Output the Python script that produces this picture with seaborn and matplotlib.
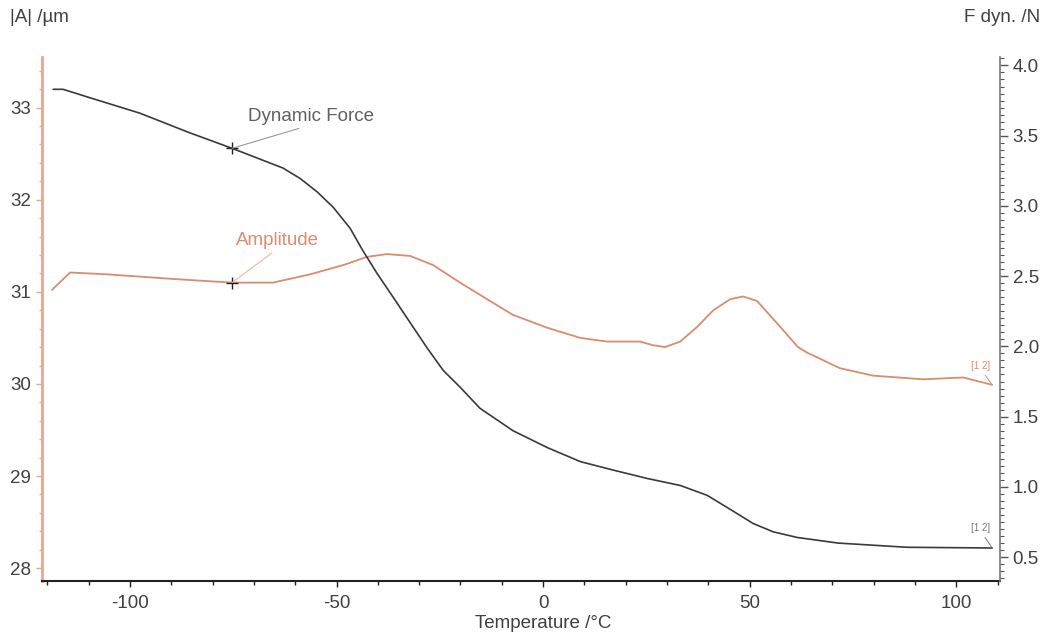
import numpy as np
import pandas as pd
import matplotlib
matplotlib.use("Agg")
import matplotlib.pyplot as plt
from matplotlib.ticker import MultipleLocator, FormatStrFormatter
import seaborn as sns

# ---- data ----
amp_temp = [-118.9, -114.5, -105.6, -89.6, -75.3, -65.4, -56.4, -48.4, -42.6, -37.8,
            -32.2, -26.6, -20.1, -12.1, -7.3, 1.0, 9.0, 15.5, 23.5, 26.6,
            29.5, 33.2, 37.3, 41.2, 45.3, 48.4, 51.8, 57.4, 61.7, 63.9,
            71.9, 79.9, 92.0, 101.7, 108.7]
amp_values = [31.02, 31.21, 31.19, 31.14, 31.10, 31.10, 31.19, 31.29, 31.38, 31.41,
              31.39, 31.29, 31.10, 30.88, 30.75, 30.61, 30.50, 30.46, 30.46, 30.42,
              30.40, 30.46, 30.62, 30.80, 30.92, 30.95, 30.90, 30.62, 30.40, 30.34,
              30.17, 30.09, 30.05, 30.07, 29.99]

force_temp = [-118.6, -116.2, -109.7, -97.6, -85.5, -75.3, -70.9, -63.0, -58.8, -54.7,
              -50.8, -46.7, -43.6, -40.2, -36.3, -32.2, -28.1, -24.2, -20.1, -15.3,
              -7.3, 1.0, 9.0, 16.9, 25.2, 33.2, 39.7, 45.3, 50.8, 55.7,
              61.5, 71.4, 88.1, 108.7]
force_values = [3.83, 3.83, 3.77, 3.66, 3.52, 3.41, 3.36, 3.27, 3.195, 3.10,
                2.99, 2.84, 2.68, 2.52, 2.35, 2.17, 1.99, 1.83, 1.71, 1.56,
                1.40, 1.28, 1.18, 1.12, 1.06, 1.01, 0.94, 0.84, 0.74, 0.68,
                0.64, 0.60, 0.57, 0.565]

x_ticks = [-100, -50, 0, 50, 100]
left_ticks = [28, 29, 30, 31, 32, 33]
right_ticks = [0.5, 1.0, 1.5, 2.0, 2.5, 3.0, 3.5, 4.0]

marker_index_amp = 4      # point at -75.3 °C
marker_index_force = 5    # point at -75.3 °C

amp_color = "#d98c70"
amp_spine = "#eaa693"
force_color = "#3a3a3a"
text_color = "#404040"

sns.set_style("ticks")
plt.rcParams['font.family'] = ['Liberation Sans', 'DejaVu Sans']
plt.rcParams['axes.unicode_minus'] = False

fig = plt.figure(figsize=(10.48, 6.37), dpi=100)
ax = fig.add_axes([42/1048, 1-581/637, (1000-42)/1048, (581-57)/637])
ax2 = ax.twinx()

amp_df = pd.DataFrame({"T": amp_temp, "A": amp_values})
force_df = pd.DataFrame({"T": force_temp, "F": force_values})

sns.lineplot(data=amp_df, x="T", y="A", ax=ax, color=amp_color, lw=1.3,
             sort=False, estimator=None, solid_joinstyle='round')
sns.lineplot(data=force_df, x="T", y="F", ax=ax2, color=force_color, lw=1.2,
             sort=False, estimator=None, solid_joinstyle='round')

ax.set_xlim(-121.3, 110.6)
ax.set_ylim(27.86, 33.55)
ax2.set_ylim(0.33, 4.06)

ax.set_xlabel("")
ax.set_ylabel("")
ax2.set_ylabel("")

ax.set_xticks(x_ticks)
ax.xaxis.set_minor_locator(MultipleLocator(10))
ax.set_yticks(left_ticks)
ax.yaxis.set_minor_locator(MultipleLocator(0.2))
ax2.set_yticks(right_ticks)
ax2.yaxis.set_minor_locator(MultipleLocator(0.05))
ax2.yaxis.set_major_formatter(FormatStrFormatter('%.1f'))

fs = 13.5
ax.tick_params(axis='x', which='major', length=4, width=1, color='#222222',
               labelsize=fs, labelcolor=text_color, pad=6)
ax.tick_params(axis='x', which='minor', length=3, width=1, color='#222222')
ax.tick_params(axis='y', which='major', length=4, width=1, color=amp_spine,
               labelsize=fs, labelcolor=text_color, pad=4)
ax.tick_params(axis='y', which='minor', length=2.5, width=1, color=amp_spine)
ax2.tick_params(axis='y', which='major', length=6, width=1, color='#555555',
                labelsize=fs, labelcolor=text_color, pad=3)
ax2.tick_params(axis='y', which='minor', length=3, width=0.8, color='#555555')

for a in (ax, ax2):
    a.spines['top'].set_visible(False)
    a.grid(False)
ax.spines['left'].set_color(amp_spine)
ax.spines['left'].set_linewidth(2)
ax.spines['bottom'].set_color('#222222')
ax.spines['bottom'].set_linewidth(1.5)
ax.spines['right'].set_visible(False)
ax2.spines['left'].set_visible(False)
ax2.spines['bottom'].set_visible(False)
ax2.spines['right'].set_visible(True)
ax2.spines['right'].set_color('#777777')
ax2.spines['right'].set_linewidth(1.2)

# marker + labels
mx_f, my_f = force_temp[marker_index_force], force_values[marker_index_force]
mx_a, my_a = amp_temp[marker_index_amp], amp_values[marker_index_amp]
ax2.plot([mx_f], [my_f], marker='+', ms=9, mew=1, color='#222222')
ax.plot([mx_a], [my_a], marker='+', ms=9, mew=1, color='#222222')

ax2.annotate("Dynamic Force", xy=(mx_f, my_f), xytext=(79, 32), textcoords='offset pixels',
             ha='center', va='center', fontsize=fs, color='#606060',
             arrowprops=dict(arrowstyle='-', color='#9a9a9a', lw=0.8,
                             relpos=(0.5, 0), shrinkA=1, shrinkB=0))
ax.annotate("Amplitude", xy=(mx_a, my_a), xytext=(45, 42), textcoords='offset pixels',
            ha='center', va='center', fontsize=fs, color=amp_color,
            arrowprops=dict(arrowstyle='-', color='#e8b8a0', lw=0.8,
                            relpos=(0.5, 0), shrinkA=1, shrinkB=0))

ax.annotate("[1 2]", xy=(amp_temp[-1], amp_values[-1]), xytext=(-12, 19),
            textcoords='offset pixels', ha='center', va='center', fontsize=7,
            color=amp_color,
            arrowprops=dict(arrowstyle='-', color=amp_color, lw=0.7,
                            relpos=(0.6, 0), shrinkA=1, shrinkB=0))
ax2.annotate("[1 2]", xy=(force_temp[-1], force_values[-1]), xytext=(-12, 20),
             textcoords='offset pixels', ha='center', va='center', fontsize=7,
             color='#777777',
             arrowprops=dict(arrowstyle='-', color='#777777', lw=0.7,
                             relpos=(0.6, 0), shrinkA=1, shrinkB=0))

fig.text(10/1048, 1-18/637, "|A| /µm", ha='left', va='center', fontsize=fs, color=text_color)
fig.text(1040/1048, 1-18/637, "F dyn. /N", ha='right', va='center', fontsize=fs, color=text_color)
fig.text(543/1048, 1-623/637, "Temperature /°C", ha='center', va='center', fontsize=fs,
         color=text_color)

fig.savefig("out.png", dpi=100)
